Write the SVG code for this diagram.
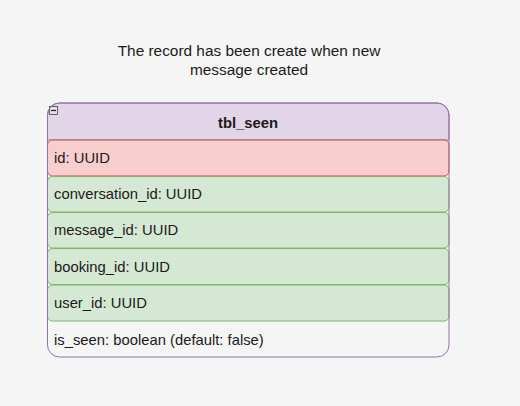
<svg xmlns="http://www.w3.org/2000/svg" width="520" height="406" viewBox="0 0 520 406">
<style>
text{font-family:"Liberation Sans",Arial,sans-serif;font-size:14.8px;fill:#1a1a1a}
.f{text-anchor:start}
.n{font-size:15.4px;text-anchor:middle}
.pk{fill:#f8cecc;stroke:#b85450;stroke-width:1}
.fk{fill:#d5e8d4;stroke:#82b366;stroke-width:1}
</style>
<rect x="0" y="0" width="520" height="406" fill="#f5f5f5"/>
<g id="note">
<text class="n" x="249" y="56">The record has been create when new</text>
<text class="n" x="249" y="75">message created</text>
</g>
<g id="tbl_seen">
<path d="M47.5,140 V115 a12,12 0 0 1 12,-12 H437 a12,12 0 0 1 12,12 V140 Z" fill="#e1d5e7" stroke="#9673a6"/>
<rect x="49.5" y="106.5" width="8" height="8" fill="#e0e0e0" stroke="#555" stroke-width="0.9"/>
<line x1="51" y1="110.5" x2="56" y2="110.5" stroke="#222" stroke-width="1.2"/>
<text x="248" y="128" text-anchor="middle" font-weight="bold">tbl_seen</text>
</g>
<g id="row_id"><rect class="pk" x="47.5" y="140" width="401.5" height="36" rx="5"/><text class="f" x="54" y="163">id: UUID</text></g>
<g id="row_conversation_id"><rect class="fk" x="47.5" y="176.5" width="401.5" height="35.5" rx="5"/><text class="f" x="54" y="199">conversation_id: UUID</text></g>
<g id="row_message_id"><rect class="fk" x="47.5" y="212.5" width="401.5" height="35.5" rx="5"/><text class="f" x="54" y="235">message_id: UUID</text></g>
<g id="row_booking_id"><rect class="fk" x="47.5" y="248.5" width="401.5" height="36" rx="5"/><text class="f" x="54" y="272">booking_id: UUID</text></g>
<g id="row_user_id"><rect class="fk" x="47.5" y="285" width="401.5" height="36" rx="5"/><text class="f" x="54" y="308">user_id: UUID</text></g>
<g id="row_is_seen"><text class="f" x="54" y="345">is_seen: boolean (default: false)</text></g>
<path id="tbl_outline" d="M47.5,140 V115 a12,12 0 0 1 12,-12 H437 a12,12 0 0 1 12,12 V345 a12,12 0 0 1 -12,12 H59.5 a12,12 0 0 1 -12,-12 Z" fill="none" stroke="#9673a6"/>
<g id="connectors"/>
</svg>
